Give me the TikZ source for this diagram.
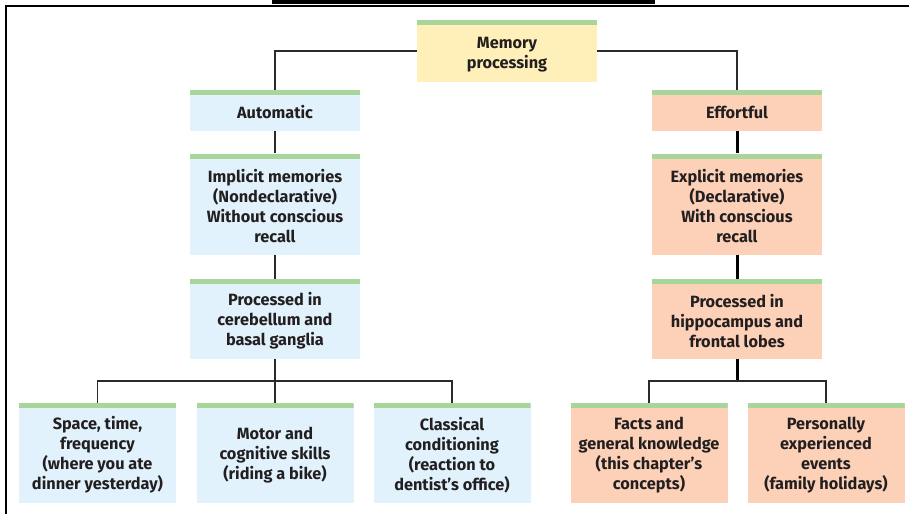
\documentclass[tikz,border=0pt]{standalone}
\usepackage{fontspec}
\setmainfont{Fira Sans}
\definecolor{barG}{HTML}{A8D69A}
\definecolor{fBlue}{HTML}{E1F2FC}
\definecolor{fPeach}{HTML}{FCD1B7}
\definecolor{fYel}{HTML}{FFF0BA}
\definecolor{txt}{HTML}{231F20}
\definecolor{lineC}{HTML}{2A2A2A}
\tikzset{
  box/.style={fill=#1, draw=none, inner sep=0pt,
    path picture={\fill[barG] (path picture bounding box.north west) rectangle ([yshift=-5pt]path picture bounding box.north east);}},
  lbl/.style={align=center, inner sep=0pt, text=txt,
    font=\fontsize{16.3}{20}\selectfont\bfseries},
  conn/.style={draw=lineC, line width=1.6pt},
  connthick/.style={draw=black, line width=3pt}
}
\begin{document}
\begin{tikzpicture}[x=1pt,y=-1pt]
\useasboundingbox (0,0) rectangle (909,514);
\fill[black] (272,0) rectangle (655,4);
\draw[black, line width=2.2pt] (6,514) -- (6,6) -- (909,6);

\node[box=fYel, minimum width=180pt, minimum height=62pt] (mem) at (507,51) {};
\node[lbl] (memT) at ([yshift=-4pt]mem.center) {Memory\\processing};

\node[box=fBlue, minimum width=170pt, minimum height=41pt] (auto) at (275,110.5) {};
\node[lbl] (autoT) at ([yshift=-2pt]auto.center) {Automatic};
\node[box=fPeach, minimum width=170pt, minimum height=41pt] (eff) at (737,110.5) {};
\node[lbl] (effT) at ([yshift=-2pt]eff.center) {Effortful};

\node[box=fBlue, minimum width=170pt, minimum height=101pt] (impl) at (275,204) {};
\node[lbl] (implT) at ([yshift=-2pt]impl.center) {Implicit memories\\(Nondeclarative)\\Without conscious\\recall};
\node[box=fPeach, minimum width=170pt, minimum height=101pt] (expl) at (737,204) {};
\node[lbl] (explT) at ([yshift=-2pt]expl.center) {Explicit memories\\(Declarative)\\With conscious\\recall};

\node[box=fBlue, minimum width=170pt, minimum height=80pt] (procL) at (275,319) {};
\node[lbl] (procLT) at ([yshift=-2pt]procL.center) {Processed in\\cerebellum and\\basal ganglia};
\node[box=fPeach, minimum width=170pt, minimum height=80pt] (procR) at (737,319) {};
\node[lbl] (procRT) at ([yshift=-2pt]procR.center) {Processed in\\hippocampus and\\frontal lobes};

\node[box=fBlue, minimum width=157pt, minimum height=100pt] (b1) at (97.5,453) {};
\node[lbl] (b1T) at ([yshift=-2pt]b1.center) {Space, time,\\frequency\\(where you ate\\dinner yesterday)};
\node[box=fBlue, minimum width=157pt, minimum height=100pt] (b2) at (275,453) {};
\node[lbl] (b2T) at ([yshift=-2pt]b2.center) {Motor and\\cognitive skills\\(riding a bike)};
\node[box=fBlue, minimum width=157pt, minimum height=100pt] (b3) at (452,453) {};
\node[lbl] (b3T) at ([yshift=-2pt]b3.center) {Classical\\conditioning\\(reaction to\\dentist’s office)};
\node[box=fPeach, minimum width=157pt, minimum height=100pt] (r1) at (649,453) {};
\node[lbl] (r1T) at ([yshift=-2pt]r1.center) {Facts and\\general knowledge\\(this chapter’s\\concepts)};
\node[box=fPeach, minimum width=157pt, minimum height=100pt] (r2) at (826,453) {};
\node[lbl] (r2T) at ([yshift=-2pt]r2.center) {Personally\\experienced\\events\\(family holidays)};

\coordinate (jL) at (275,381);
\coordinate (jR) at (737,381);

\draw[conn] (mem.west) -| (auto.north);
\draw[conn] (mem.east) -| (eff.north);
\draw[conn] (auto.south) -- (impl.north);
\draw[conn] (impl.south) -- (procL.north);
\draw[conn] (procL.south) -- (b2.north);
\draw[conn] (jL) -| (b1.north);
\draw[conn] (jL) -| (b3.north);

\draw[connthick] (eff.south) -- (expl.north);
\draw[connthick] (expl.south) -- (procR.north);
\draw[connthick] (procR.south) -- (jR);
\draw[conn] (jR) -| (r1.north);
\draw[conn] (jR) -| (r2.north);
\end{tikzpicture}
\end{document}
